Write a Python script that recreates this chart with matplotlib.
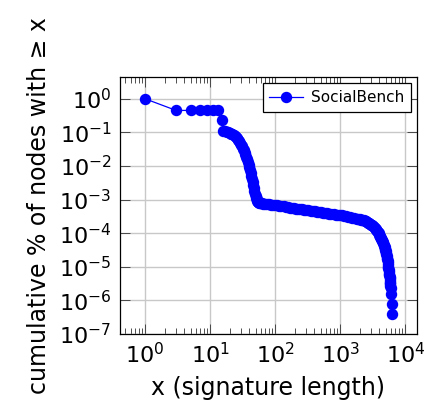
import numpy as np
import matplotlib
matplotlib.use('Agg')
import matplotlib.pyplot as plt
from matplotlib.ticker import LogLocator, NullLocator

# signature length vs cumulative fraction of nodes
head_x = [1, 3, 5, 7, 9, 11, 13, 15]
head_y = [1.0, 0.45, 0.45, 0.45, 0.45, 0.45, 0.45, 0.24]

steep_x = list(range(16, 57))
steep_y = [0.112, 0.108, 0.104, 0.100, 0.096, 0.092, 0.088, 0.083, 0.078, 0.072,
           0.066, 0.060, 0.054, 0.049, 0.043, 0.038, 0.033, 0.029, 0.025, 0.022,
           0.019, 0.016, 0.013, 0.011, 0.0093, 0.0077, 0.0063, 0.0051, 0.0041, 0.0033,
           0.0027, 0.0022, 0.0018, 0.0015, 0.0013, 0.00115, 0.00102, 0.00093, 0.00087, 0.00082,
           0.00079]

flat_x = [58, 62, 66, 70, 75, 80, 86, 92, 100, 108, 116, 125, 135, 145, 156, 168, 180,
          195, 210, 225, 242, 260, 280, 300, 325, 350, 375, 405, 435, 470, 505, 545, 585,
          630, 680, 730, 790, 850, 915, 985, 1060, 1140, 1230, 1320, 1420, 1530, 1650,
          1780, 1900, 2000, 2100, 2200, 2300, 2400, 2500, 2600]
flat_y = [7.8e-4, 7.7e-4, 7.6e-4, 7.5e-4, 7.4e-4, 7.3e-4, 7.1e-4, 7.0e-4, 6.9e-4, 6.7e-4,
          6.6e-4, 6.4e-4, 6.3e-4, 6.1e-4, 6.0e-4, 5.8e-4, 5.7e-4, 5.6e-4, 5.4e-4, 5.3e-4,
          5.2e-4, 5.1e-4, 5.0e-4, 4.9e-4, 4.8e-4, 4.7e-4, 4.6e-4, 4.5e-4, 4.4e-4, 4.3e-4,
          4.2e-4, 4.1e-4, 4.0e-4, 3.9e-4, 3.8e-4, 3.7e-4, 3.65e-4, 3.6e-4, 3.5e-4, 3.45e-4,
          3.4e-4, 3.3e-4, 3.2e-4, 3.1e-4, 3.0e-4, 2.9e-4, 2.8e-4, 2.7e-4, 2.62e-4, 2.58e-4,
          2.52e-4, 2.46e-4, 2.4e-4, 2.32e-4, 2.24e-4, 2.15e-4]

tail_x = [2700, 2800, 2900, 3000, 3100, 3200, 3300, 3400, 3500, 3600, 3700, 3800, 3900,
          4000, 4080, 4150, 4230, 4300, 4380, 4450, 4530, 4600, 4680, 4750, 4820, 4880,
          4940, 5000, 5060, 5120, 5180, 5240, 5290, 5340, 5390, 5430, 5480, 5520, 5570,
          5610, 5650, 5690, 5730, 5760, 5790, 5820, 5850, 5880, 5910, 5950,
          6060, 6200, 6230]
tail_y = [2.05e-4, 1.98e-4, 1.9e-4, 1.8e-4, 1.7e-4, 1.6e-4, 1.5e-4, 1.41e-4, 1.32e-4,
          1.24e-4, 1.15e-4, 1.07e-4, 9.8e-5, 9e-5, 8.4e-5, 7.9e-5, 7.3e-5, 6.8e-5, 6.3e-5,
          5.9e-5, 5.4e-5, 5.0e-5, 4.6e-5, 4.2e-5, 3.8e-5, 3.5e-5, 3.2e-5, 2.9e-5, 2.6e-5,
          2.35e-5, 2.1e-5, 1.85e-5, 1.65e-5, 1.45e-5, 1.3e-5, 1.15e-5, 1.0e-5, 9e-6, 8e-6,
          7.1e-6, 6.3e-6, 5.6e-6, 5e-6, 4.5e-6, 4.0e-6, 3.6e-6, 3.3e-6, 3.0e-6, 2.7e-6,
          2.3e-6, 1.6e-6, 7.8e-7, 3.9e-7]

x = np.array(head_x + steep_x + flat_x + tail_x, dtype=float)
y = np.array(head_y + steep_y + flat_y + tail_y)

fig = plt.figure(figsize=(4.25, 4.17), dpi=100)
ax = fig.add_axes([0.282, 0.199, 0.699, 0.616])

ax.plot(x, y, color='#0000ff', lw=0.9, marker='o', ms=7.2, mec='#0000ff',
        mfc='#0000ff', label='SocialBench')

ax.set_xscale('log')
ax.set_yscale('log')
ax.set_xlim(0.41, 15100)
ax.set_ylim(1e-7, 4.4)

ax.yaxis.set_major_locator(LogLocator(base=10, numticks=20))
ax.yaxis.set_minor_locator(NullLocator())
ax.xaxis.set_major_locator(LogLocator(base=10, numticks=20))
ax.xaxis.set_minor_locator(LogLocator(base=10, subs=np.arange(2, 10), numticks=20))

ax.grid(True, which='major', color='#c8c8c8', lw=1)
ax.set_axisbelow(True)
ax.tick_params(which='both', direction='in', top=True, right=True, labelsize=16,
               color='#333333', width=0.6)
ax.tick_params(which='major', length=7, pad=6)
ax.tick_params(which='minor', length=4.5)
for s in ax.spines.values():
    s.set_linewidth(0.9)

ax.set_xlabel('x (signature length)', fontsize=17, labelpad=6)
ax.set_ylabel('cumulative % of nodes with \u2265 x', fontsize=17, labelpad=6)

leg = ax.legend(loc='upper right', fontsize=11, fancybox=False, edgecolor='black',
                framealpha=1, borderaxespad=0.4, handlelength=2.2, handletextpad=0.5,
                borderpad=0.45)
leg.get_frame().set_linewidth(0.9)

fig.savefig('out.png', dpi=100)
